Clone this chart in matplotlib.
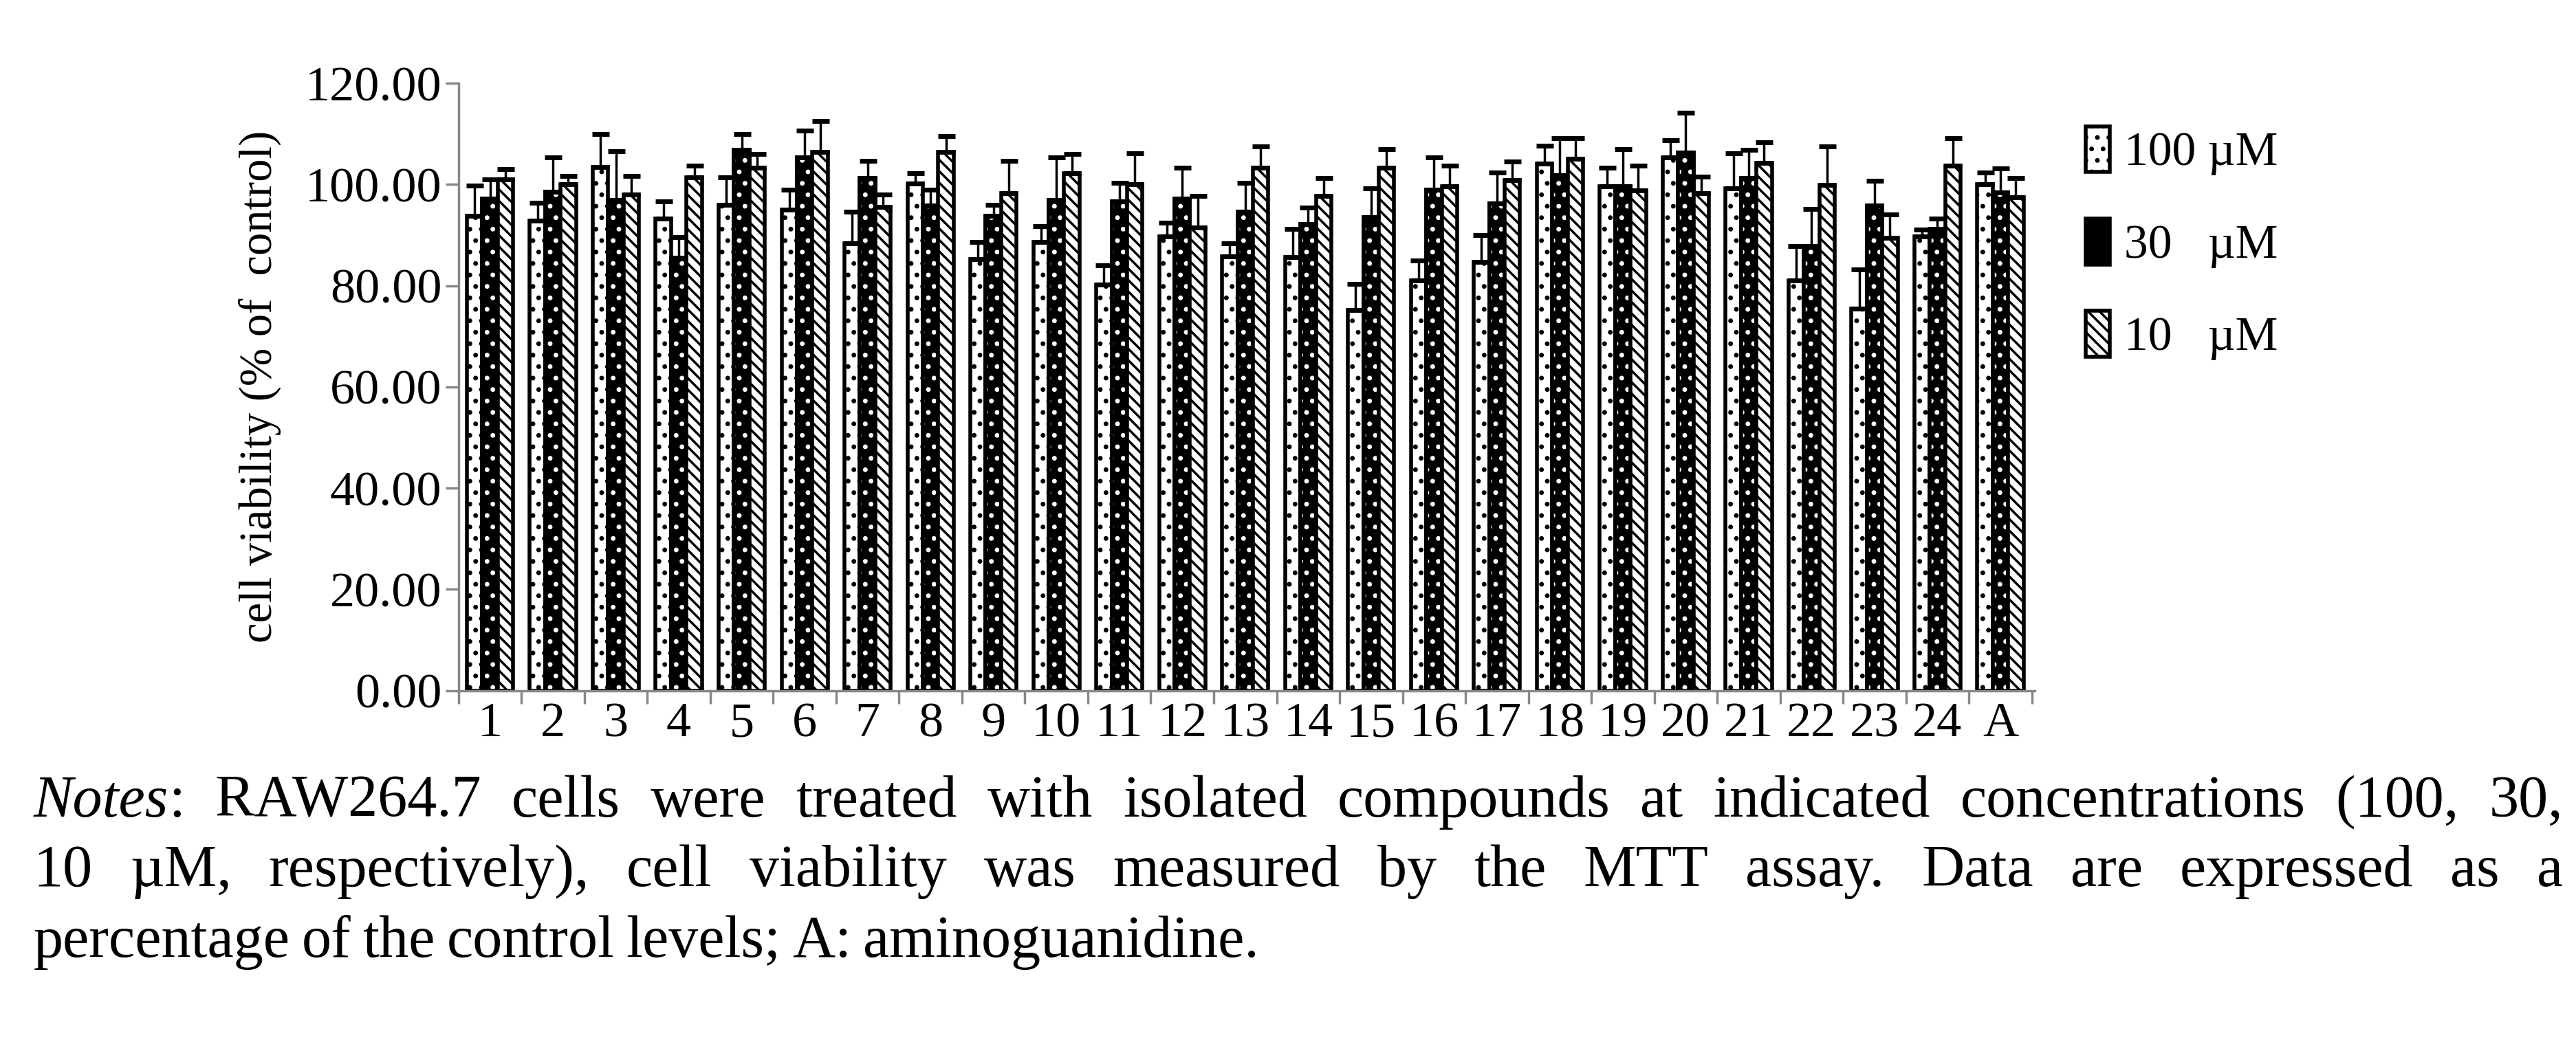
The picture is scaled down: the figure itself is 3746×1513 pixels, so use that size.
import matplotlib.pyplot as plt
import numpy as np
from matplotlib.patches import Patch

plt.rcParams['font.family'] = ['Liberation Serif', 'DejaVu Serif']
plt.rcParams['hatch.linewidth'] = 2.5

groups = [str(i) for i in range(1, 25)] + ['A']
v100 = [93.8, 92.9, 103.4, 93.3, 95.9, 95.0, 88.4, 100.2, 85.3, 88.7, 80.2, 89.7, 85.8,
        85.7, 75.2, 81.0, 84.7, 104.1, 99.6, 105.4, 99.2, 81.0, 75.5, 89.7, 100.0]
e100 = [6.0, 3.5, 6.6, 3.4, 5.5, 4.0, 6.2, 2.0, 3.4, 3.0, 3.8, 2.8, 2.5,
        5.5, 5.1, 4.0, 5.3, 3.5, 3.7, 3.4, 7.0, 6.8, 7.7, 1.4, 2.4]
v30 = [97.2, 98.5, 96.9, 85.5, 106.8, 105.3, 101.3, 95.8, 93.8, 96.9, 96.7, 97.2, 94.6,
       92.1, 93.5, 98.9, 96.3, 101.8, 99.6, 106.3, 101.2, 87.8, 95.8, 91.2, 98.4]
e30 = [3.8, 6.9, 9.7, 4.1, 3.2, 5.4, 3.3, 3.1, 2.1, 8.5, 3.6, 6.1, 5.7,
       3.3, 5.7, 6.5, 6.1, 7.4, 7.4, 7.9, 5.6, 7.4, 4.9, 2.0, 4.8]
v10 = [101.0, 100.0, 98.0, 101.4, 103.3, 106.4, 95.6, 106.4, 98.3, 102.2, 100.0, 91.5, 103.3,
       97.8, 103.3, 99.6, 100.8, 105.0, 98.8, 98.3, 104.2, 99.9, 89.5, 103.7, 97.5]
e10 = [2.0, 1.7, 3.7, 2.3, 2.7, 6.2, 2.4, 3.2, 6.3, 3.8, 6.2, 6.3, 4.2,
       3.4, 3.7, 4.1, 3.7, 4.2, 4.9, 3.3, 4.1, 7.6, 4.5, 5.5, 3.7]
labels = ['100 \u00b5M', '30   \u00b5M', '10   \u00b5M']

fig = plt.figure(figsize=(37.46, 15.13), dpi=100)
ax = fig.add_axes([0.178, 0.336, 0.612, 0.584])

x = np.arange(len(groups))
w = 0.245
ek = dict(lw=2.5, capsize=9, capthick=5, ecolor='black')

b1 = ax.bar(x - w, v100, w, color='white', edgecolor='black', linewidth=4, hatch='.', label=labels[0])
ax.errorbar(x - w, v100, yerr=[np.zeros(len(x)), e100], fmt='none', **ek)

ax.bar(x, v30, w, color='black', edgecolor='black', linewidth=4)
ax.bar(x, v30, w, fill=False, edgecolor='white', linewidth=0.01, hatch='.')
ax.bar(x, v30, w, fill=False, edgecolor='black', linewidth=4)
ax.errorbar(x, v30, yerr=[np.zeros(len(x)), e30], fmt='none', **ek)
h30 = Patch(facecolor='black', edgecolor='black', linewidth=4)

b3 = ax.bar(x + w, v10, w, color='white', edgecolor='black', linewidth=4, hatch='\\\\', label=labels[2])
ax.errorbar(x + w, v10, yerr=[np.zeros(len(x)), e10], fmt='none', **ek)

ax.set_xlim(-0.5, len(groups) - 0.45)
ax.set_ylim(0, 120)
ax.set_yticks(np.arange(0, 121, 20))
ax.set_yticklabels(['%.2f' % t for t in np.arange(0, 121, 20)])
ax.set_xticks(x)
ax.set_xticklabels(groups)
ax.tick_params(axis='both', labelsize=52, color='#888888', width=2.5, length=14)
ax.tick_params(axis='x', length=0, pad=12)
ax.set_xticks(np.arange(-0.5, len(groups), 1), minor=True)
ax.tick_params(axis='x', which='minor', length=14, color='#888888', width=2.5)
for s in ['top', 'right']:
    ax.spines[s].set_visible(False)
for s in ['left', 'bottom']:
    ax.spines[s].set_color('#888888')
    ax.spines[s].set_linewidth(2.5)
ax.set_ylabel('cell viability (% of  control)', fontsize=48, labelpad=25)

leg = ax.legend([b1, h30, b3], labels, loc='upper left', bbox_to_anchor=(1.005, 1.0),
                frameon=False, fontsize=50, handlelength=0.5, handleheight=1.1,
                labelspacing=0.9, handletextpad=0.3)

# caption, justified by hand
lines = [
    [('Notes', 'italic'), (': RAW264.7 cells were treated with isolated compounds at indicated concentrations (100, 30,', 'normal')],
    [('10 \u00b5M, respectively), cell viability was measured by the MTT assay. Data are expressed as a', 'normal')],
    [('percentage of the control levels; A: aminoguanidine.', 'normal')],
]
fig.canvas.draw()
r = fig.canvas.get_renderer()
x0, x1 = 0.013, 0.995
ys = [0.215, 0.148, 0.080]
for li, (parts, y) in enumerate(zip(lines, ys)):
    words = []
    for txt, st in parts:
        toks = txt.split(' ')
        for k, t in enumerate(toks):
            if t == '':
                continue
            glue = (k == 0 and words and not txt.startswith(' '))
            words.append([t, st, glue])
    arts = []
    for t, st, glue in words:
        a = fig.text(0, y, t, fontsize=62, style=st, ha='left', va='baseline')
        arts.append(a)
    widths = [a.get_window_extent(r).width / fig.bbox.width for a in arts]
    nspace = sum(1 for wd in words[1:] if not wd[2])
    if li < 2:
        gap = (x1 - x0 - sum(widths)) / max(nspace, 1)
    else:
        gap = 0.0045
    cx = x0
    for a, wd, wi in zip(arts, words, widths):
        if not wd[2] and a is not arts[0]:
            cx += gap
        a.set_x(cx)
        cx += wi

fig.savefig('out.png', dpi=100)
